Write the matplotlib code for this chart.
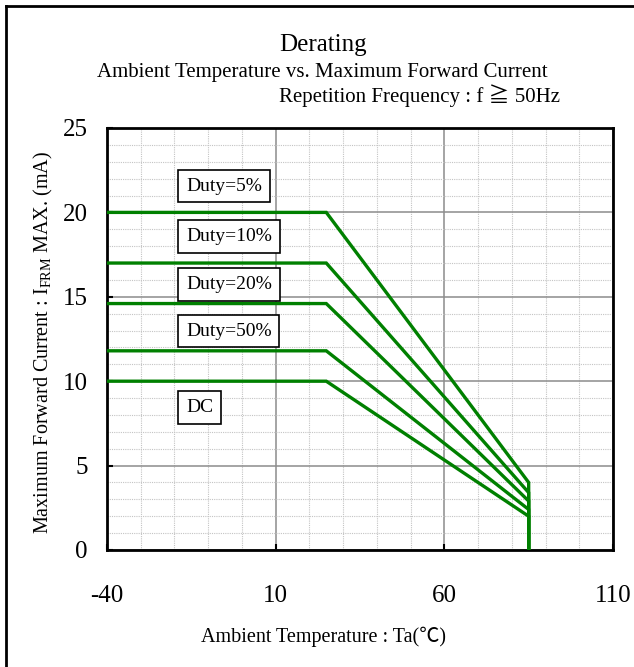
import matplotlib
matplotlib.use('Agg')
import matplotlib.pyplot as plt
import matplotlib.ticker as mticker
from matplotlib.lines import Line2D

plt.rcParams['font.family'] = ['Liberation Serif', 'Noto Sans CJK JP', 'DejaVu Serif']
plt.rcParams['mathtext.fontset'] = 'custom'
plt.rcParams['mathtext.rm'] = 'Liberation Serif'
plt.rcParams['axes.unicode_minus'] = False

# data
temp_pts = [-40, 25, 85, 85]
labels = ['Duty=5%', 'Duty=10%', 'Duty=20%', 'Duty=50%', 'DC']
i_flat = [20.0, 17.0, 14.6, 11.8, 10.0]
i_85 = [4.0, 3.4, 2.9, 2.4, 2.0]
xticks = [-40, 10, 60, 110]
yticks = [0, 5, 10, 15, 20, 25]

# label box positions (data coords)
label_x = -16.6
label_y = [21.56, 18.57, 15.73, 12.97, 8.44]

W, H = 634, 667
fig = plt.figure(figsize=(W / 100, H / 100), dpi=100)
ax = fig.add_axes([107 / W, 1 - 550 / H, 506 / W, 422 / H])

green = '#008000'
for flat, end in zip(i_flat, i_85):
    ax.plot(temp_pts, [flat, flat, end, 0], color=green, lw=2.4,
            solid_joinstyle='miter', zorder=3)

for txt, ly in zip(labels, label_y):
    ax.text(label_x, ly, txt, fontsize=14, ha='left', va='center', zorder=4,
            bbox=dict(boxstyle='square,pad=0.4', fc='white', ec='black', lw=1.2))

ax.set_xlim(-40, 110)
ax.set_ylim(0, 25)
ax.xaxis.set_major_locator(mticker.FixedLocator(xticks))
ax.yaxis.set_major_locator(mticker.FixedLocator(yticks))
ax.xaxis.set_minor_locator(mticker.MultipleLocator(10))
ax.yaxis.set_minor_locator(mticker.MultipleLocator(1))

ax.grid(which='minor', color='#c4c4c4', lw=0.8, ls=(0, (1, 1)))
ax.grid(which='major', color='#8c8c8c', lw=1.1, ls='-')
ax.set_axisbelow(True)

ax.tick_params(which='major', direction='in', length=4, width=1.5,
               labelsize=18, top=False, right=False)
ax.tick_params(axis='x', which='major', pad=25)
ax.tick_params(axis='y', which='major', pad=14)
ax.tick_params(which='minor', length=0)

for s in ax.spines.values():
    s.set_linewidth(2)
    s.set_color('black')

fig.text(323 / W, 1 - 51 / H, 'Derating', fontsize=18, ha='center', va='baseline')
fig.text(322.5 / W, 1 - 77 / H, 'Ambient Temperature vs. Maximum Forward Current',
         fontsize=15, ha='center', va='baseline')
fig.text(560 / W, 1 - 102 / H, 'Repetition Frequency : f \u2267 50Hz',
         fontsize=15, ha='right', va='baseline')

fig.text(323 / W, 1 - 637 / H, 'Ambient Temperature : Ta(\u2103)',
         fontsize=14.5, ha='center', va='center')
fig.text(43 / W, 1 - 342 / H, r'Maximum Forward Current : I$_{\rm FRM}$ MAX. (mA)',
         fontsize=14.5, rotation=90, ha='center', va='center')

# outer frame (only top/left visible in the reference)
fig.add_artist(Line2D([6 / W, 6 / W], [0, 1 - 6 / H], color='black', lw=2))
fig.add_artist(Line2D([6 / W, 1], [1 - 6 / H, 1 - 6 / H], color='black', lw=2))

fig.savefig('out.png', dpi=100, facecolor='white')
